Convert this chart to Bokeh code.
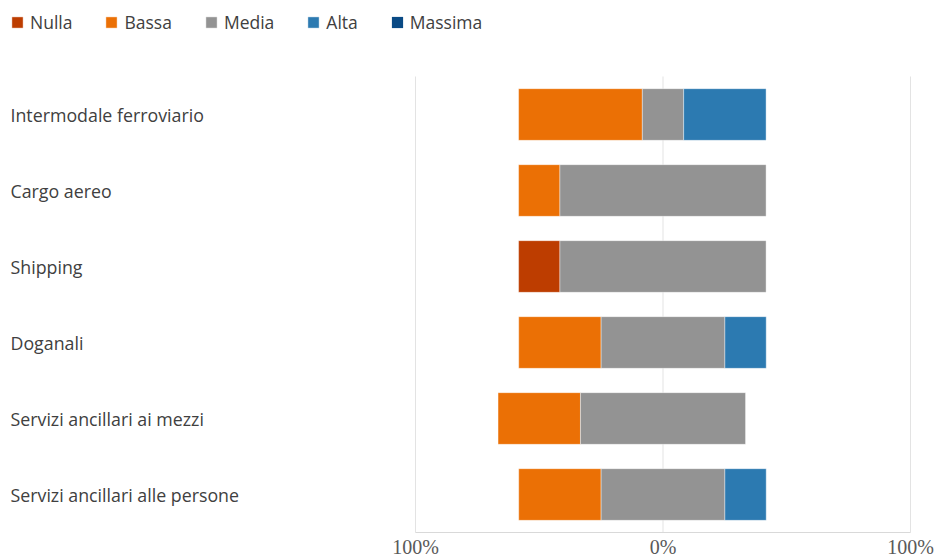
from bokeh.plotting import figure
from bokeh.models import ColumnDataSource, Legend, LegendItem, Range1d
from bokeh.core.properties import value
from bokeh.embed import file_html
from bokeh.resources import INLINE

# ---- data ----
categories = [
    "Intermodale ferroviario",
    "Cargo aereo",
    "Shipping",
    "Doganali",
    "Servizi ancillari ai mezzi",
    "Servizi ancillari alle persone",
]
nulla = [0.0, 0.0, 16.7, 0.0, 0.0, 0.0]
bassa = [50.0, 16.7, 0.0, 33.3, 33.3, 33.3]
media = [16.7, 83.3, 83.3, 50.0, 66.7, 50.0]
alta = [33.3, 0.0, 0.0, 16.7, 0.0, 16.7]
massima = [0.0, 0.0, 0.0, 0.0, 0.0, 0.0]
series_names = ["Nulla", "Bassa", "Media", "Alta", "Massima"]
x_ticks = [-100, 0, 100]
x_tick_labels = ["100%", "0%", "100%"]

# ---- styles / layout (pixels) ----
colors = ["#BD3D00", "#EB7005", "#939393", "#2C7AB1", "#0A4A85"]
FONT = "Open Sans"
TEXT_COLOR = "#404040"
GRID_COLOR = "#e3e3e3"
FIG_W, FIG_H = 940, 558
PLOT_L, PLOT_R = 415, 910          # x pixels of -100% and +100%
PLOT_T, PLOT_B = 76, 532           # top of category area, axis line
TICK_LABEL_Y = 546                 # pixel centre of the tick labels
LAB_LEFT = 10

n = len(categories)
ypos = [n - 0.5 - i for i in range(n)]
series = [nulla, bassa, media, alta, massima]

# the whole canvas is the frame, so nothing gets clipped
px_per_unit = (PLOT_R - PLOT_L) / (x_ticks[-1] - x_ticks[0])
x_start = x_ticks[0] - PLOT_L / px_per_unit
x_end = x_ticks[-1] + (FIG_W - PLOT_R) / px_per_unit
py_per_unit = (PLOT_B - PLOT_T) / n
y_end = PLOT_B / py_per_unit
y_start = -(FIG_H - PLOT_B) / py_per_unit

p = figure(
    output_backend="svg", toolbar_location=None,
    x_range=Range1d(x_start, x_end), y_range=Range1d(y_start, y_end),
    frame_width=FIG_W, frame_height=FIG_H,
    min_border_left=0, min_border_right=0, min_border_top=0, min_border_bottom=0,
)
p.outline_line_color = None
p.background_fill_color = "white"
p.border_fill_color = "white"
p.xgrid.visible = False
p.ygrid.visible = False
p.xaxis.visible = False
p.yaxis.visible = False

# vertical gridlines over the category area
p.segment(x0=x_ticks, x1=x_ticks, y0=[0] * len(x_ticks), y1=[n] * len(x_ticks),
          line_color=GRID_COLOR, line_width=1)
# axis line
p.segment(x0=[x_ticks[0]], x1=[x_ticks[-1]], y0=[0], y1=[0],
          line_color="#d9d9d9", line_width=1)
# tick labels
tick_y = -(TICK_LABEL_Y - PLOT_B) / py_per_unit
p.text(x=x_ticks, y=[tick_y] * len(x_ticks), text=x_tick_labels,
       text_align="center", text_baseline="middle",
       text_font=value("Liberation Serif"), text_font_size="20px", text_color="#595959")

# diverging stacked bars: centre of "Media" at 0
start = [-(nulla[i] + bassa[i] + media[i] / 2.0) for i in range(n)]
items = []
for name, vals, col in zip(series_names, series, colors):
    rows = [i for i in range(n) if vals[i] > 0]
    empty = len(rows) == 0
    if empty:
        rows = [0]   # keep a (zero-width, invisible) row so the legend swatch is drawn
    src = ColumnDataSource(dict(
        y=[ypos[i] for i in rows],
        left=[start[i] for i in rows],
        right=[start[i] + vals[i] for i in rows],
    ))
    r = p.hbar(y="y", left="left", right="right", height=0.68, source=src,
               fill_color=col, line_color="white", line_width=0.8,
               line_alpha=0.0 if empty else 0.5)
    items.append(LegendItem(label=name, renderers=[r]))
    start = [start[i] + vals[i] for i in range(n)]

legend = Legend(
    items=items, orientation="horizontal", location="top_left",
    glyph_width=14, glyph_height=14, label_standoff=6, spacing=32,
    padding=0, margin=10, label_height=20,
    label_text_font=FONT, label_text_font_size="17.5px", label_text_color=TEXT_COLOR,
    border_line_alpha=0, background_fill_alpha=0,
)
p.add_layout(legend, "center")

# category labels at the left edge
x_label = x_start + LAB_LEFT / px_per_unit
p.text(x=[x_label] * n, y=ypos, text=categories,
       text_align="left", text_baseline="middle",
       text_font=value(FONT), text_font_size="17.8px", text_color=TEXT_COLOR)

open("out.html", "w").write(file_html(p, INLINE))
